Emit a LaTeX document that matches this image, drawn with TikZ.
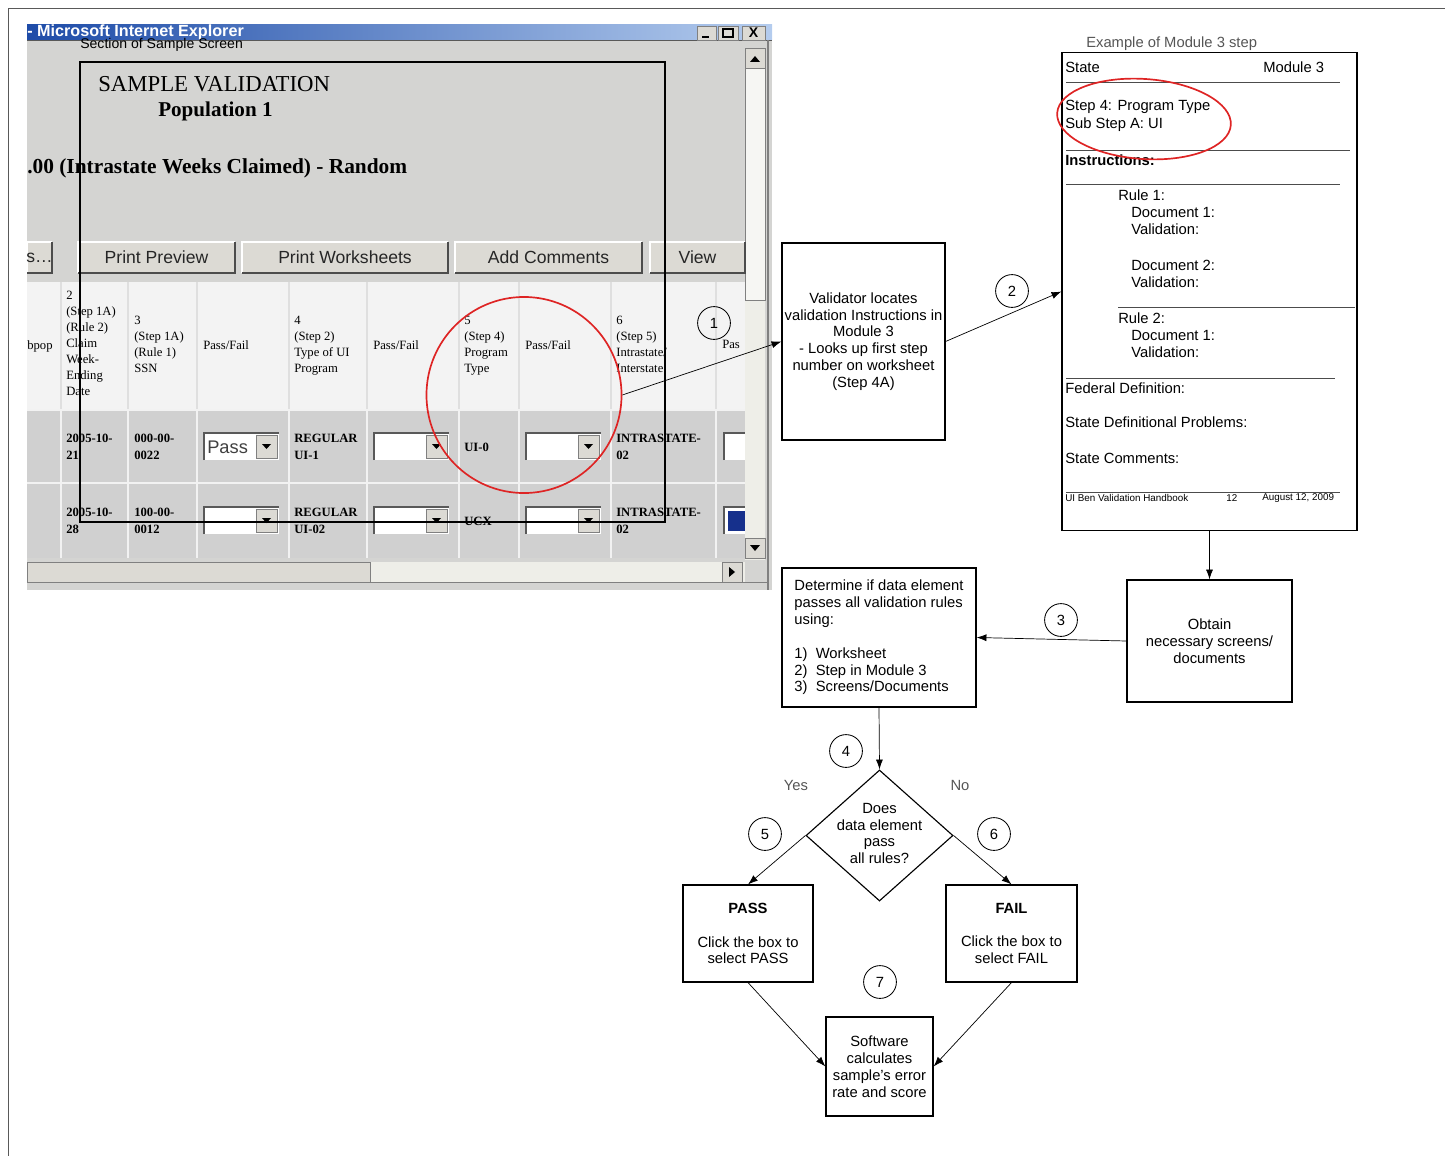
\documentclass[tikz,border=0pt]{standalone}
\usepackage{fontspec}
\setmainfont{Liberation Sans}
\newfontfamily\scrfont{Liberation Serif}
\usetikzlibrary{shapes.geometric,arrows.meta}

\definecolor{wingray}{RGB}{212,212,210}
\definecolor{rowgray}{RGB}{208,208,208}
\definecolor{headgray}{RGB}{243,243,243}
\definecolor{btngray}{RGB}{220,218,212}
\definecolor{trackgray}{RGB}{238,238,232}
\definecolor{iedark}{RGB}{30,76,168}
\definecolor{ielight}{RGB}{180,204,238}
\definecolor{markred}{RGB}{222,36,36}
\definecolor{capgray}{RGB}{85,85,85}
\definecolor{selblue}{RGB}{22,48,140}

\begin{document}
\begin{tikzpicture}[x=0.025cm,y=-0.025cm,
        font=\fontsize{10.5}{12}\selectfont,
        box/.style={draw,line width=0.8pt,inner sep=1pt,align=center},
        decision/.style={draw,diamond,line width=0.8pt,inner sep=0pt},
        flow/.style={-{Latex[length=7pt,width=5pt]},line width=0.5pt},
        num/.style={draw,circle,line width=0.6pt,minimum size=0.82cm,inner sep=0pt},
        redmark/.style={draw=markred,line width=1.2pt,ellipse,inner sep=0pt},
        sheet/.style={anchor=west,inner sep=0pt},
        sheetline/.style={gray!60!black,line width=0.6pt},
        hdr/.style={anchor=north west,inner sep=0pt,align=left,font=\scrfont\fontsize{9}{11.3}\selectfont},
        cell/.style={anchor=west,inner sep=0pt,align=left,font=\scrfont\bfseries\fontsize{9}{12}\selectfont},
        btntext/.style={inner sep=0pt,text=black!85,font=\fontsize{12.5}{14}\selectfont}]
    \useasboundingbox (0,0) rectangle (1445,1156);
    \draw[gray!70!black,line width=0.6pt] (1445,8) -- (8,8) -- (8,1156);

    % screen shot of the worksheet
    \fill[wingray] (27,40) rectangle (772,590);
    \shade[left color=iedark,right color=ielight] (27,25) rectangle (772,40);
    \draw[gray!70!black] (27,40) -- (772,40);
    \node[anchor=west,inner sep=0pt,text=white,font=\bfseries\fontsize{11.5}{12}\selectfont] (ietitle) at (27,32) {- Microsoft Internet Explorer};
    \foreach \xa/\xb in {697/716,718/738,742/765}
        \filldraw[fill=btngray,draw=gray] (\xa,26) rectangle (\xb,40);
    \draw[line width=1.4pt] (702,37) -- (709,37);
    \draw[line width=0.8pt] (723,29) rectangle (733,37);
    \node[inner sep=0pt,font=\bfseries\fontsize{10}{10}\selectfont] (closex) at (753.5,33) {X};
    \draw[gray,line width=1pt] (768,40) -- (768,590);

    \fill[trackgray] (745,48) rectangle (765,560);
    \filldraw[fill=btngray,draw=gray] (745,48) rectangle (765,68);
    \fill (750,62) -- (760,62) -- (755,56) -- cycle;
    \filldraw[fill=trackgray!50!white,draw=gray] (745,68) rectangle (765,300);
    \filldraw[fill=btngray,draw=gray] (745,538) rectangle (765,558);
    \fill (750,545) -- (760,545) -- (755,551) -- cycle;
    \fill[trackgray] (27,562) rectangle (745,582);
    \filldraw[fill=btngray,draw=gray] (27,562) rectangle (370,582);
    \filldraw[fill=btngray,draw=gray] (722,562) rectangle (742,582);
    \fill (729,567) -- (729,577) -- (735,572) -- cycle;
    \draw[gray] (27,582) -- (768,582);

    \node[anchor=west,inner sep=0pt,font=\scrfont\fontsize{16.2}{18}\selectfont] (svtitle) at (98,84) {SAMPLE VALIDATION};
    \node[anchor=west,inner sep=0pt,font=\scrfont\bfseries\fontsize{15}{18}\selectfont] (svpop) at (158,111) {Population 1};
    \node[anchor=west,inner sep=0pt,font=\scrfont\bfseries\fontsize{15.2}{18}\selectfont] (svitem) at (27,168) {.00 (Intrastate Weeks Claimed) - Random};

    \foreach \xa/\xb/\txt in {27/52/s\ldots,78/235/Print Preview,242/448/Print Worksheets,455/642/Add Comments,650/745/View} {
        \fill[btngray] (\xa,242) rectangle (\xb,273);
        \draw[white,line width=1pt] (\xa,273) -- (\xa,242) -- (\xb,242);
        \draw[gray!60!black,line width=1pt] (\xa,273) -- (\xb,273) -- (\xb,242);
        \node[btntext] (btn\xa) at ({(\xa+\xb)/2},257.5) {\txt};
    }

    \fill[headgray] (27,282) rectangle (745,410);
    \fill[rowgray] (27,410) rectangle (745,558);
    \foreach \x in {61,128,197,289,367,459,519,611,716} {
        \draw[gray!25,line width=1pt] (\x,282) -- (\x,410);
        \draw[white!90!gray,line width=1.2pt] (\x,410) -- (\x,558);
    }
    \draw[white!90!gray,line width=1.2pt] (27,410) -- (745,410) (27,483) -- (745,483);

    \node[hdr] (h1) at (27,340) {bpop};
    \node[hdr] (h2) at (66,291) {2\\(Step 1A)\\(Rule 2)\\Claim\\Week-\\Ending\\Date};
    \node[hdr] (h3) at (134,316) {3\\(Step 1A)\\(Rule 1)\\SSN};
    \node[hdr] (h4) at (203,340) {Pass/Fail};
    \node[hdr] (h5) at (294,316) {4\\(Step 2)\\Type of UI\\Program};
    \node[hdr] (h6) at (373,340) {Pass/Fail};
    \node[hdr] (h7) at (464,316) {5\\(Step 4)\\Program\\Type};
    \node[hdr] (h8) at (525,340) {Pass/Fail};
    \node[hdr] (h9) at (616,316) {6\\(Step 5)\\Intrastate/\\Interstate};
    \node[hdr] (h10) at (722,340) {Pas};

    \node[cell] (r1a) at (66,447) {2005-10-\\21};
    \node[cell] (r1b) at (134,447) {000-00-\\0022};
    \node[cell] (r1c) at (294,447) {REGULAR\\UI-1};
    \node[cell] (r1d) at (464,447) {UI-0};
    \node[cell] (r1e) at (616,447) {INTRASTATE-\\02};
    \node[cell] (r2a) at (66,521) {2005-10-\\28};
    \node[cell] (r2b) at (134,521) {100-00-\\0012};
    \node[cell] (r2c) at (294,521) {REGULAR\\UI-02};
    \node[cell] (r2d) at (464,521) {UCX};
    \node[cell] (r2e) at (616,521) {INTRASTATE-\\02};

    \foreach \x/\y in {204/433,374/433,526/433,204/507,374/507,526/507} {
        \fill[white] (\x,\y) rectangle ({\x+75},{\y+27});
        \draw[gray!70!black,line width=1pt] (\x,{\y+27}) -- (\x,\y) -- ({\x+75},\y);
        \filldraw[fill=btngray,draw=gray] ({\x+52},{\y+2}) rectangle ({\x+73},{\y+25});
        \fill ({\x+58},{\y+11}) -- ({\x+67},{\y+11}) -- ({\x+62.5},{\y+16}) -- cycle;
    }
    \node[anchor=west,inner sep=0pt,text=black!75,font=\fontsize{13}{14}\selectfont] (passval) at (207,447) {Pass};
    \fill[white] (724,433) rectangle (745,460);
    \draw[gray!70!black,line width=1pt] (724,460) -- (724,433) -- (745,433);
    \fill[white] (724,507) rectangle (745,534);
    \draw[gray!70!black,line width=1pt] (724,534) -- (724,507) -- (745,507);
    \fill[selblue] (728,511) rectangle (745,531);

    \draw[line width=1.3pt] (80,62) rectangle (665,522);
    \node[anchor=west,inner sep=0pt,font=\fontsize{10}{12}\selectfont] (shotcap) at (80,45) {Section of Sample Screen};
    \node[redmark,minimum width=4.875cm,minimum height=4.9cm] (hilite) at (524,395) {};

    % flow chart
    \node[box,minimum width=4.075cm,minimum height=4.925cm] (validator) at (863.5,341.5) {Validator locates\\validation Instructions in\\Module 3\\- Looks up first step\\number on worksheet\\(Step 4A)};

    \node[box,minimum width=7.375cm,minimum height=11.925cm] (module) at (1209.5,291.5) {};
    \node[sheet,text=capgray] (modcap) at (1086,44) {Example of Module 3 step};
    \foreach \x/\y/\txt [count=\i] in {1065/67/State,1263/67/Module 3,1065/107/Step 4: Program Type,1065/125/Sub Step A: UI,
            1065/160/\textbf{Instructions:},1118/195/Rule 1:,1131/212/Document 1:,1131/229/Validation:,
            1131/265/Document 2:,1131/282/Validation:,1118/318/Rule 2:,1131/335/Document 1:,1131/352/Validation:,
            1065/388/Federal Definition:,1065/422/State Definitional Problems:,1065/458/State Comments:}
        \node[sheet] (mod\i) at (\x,\y) {\txt};
    \draw[sheetline] (1066,82) -- (1340,82);
    \draw[sheetline] (1066,150) -- (1350,150);
    \draw[sheetline] (1066,184) -- (1340,184);
    \draw[sheetline] (1118,307) -- (1355,307);
    \draw[sheetline] (1066,378) -- (1335,378);
    \draw[sheetline] (1066,492) -- (1340,492);
    \node[sheet,font=\fontsize{7}{8}\selectfont] (foot1) at (1065,498) {UI Ben Validation Handbook};
    \node[sheet,font=\fontsize{7}{8}\selectfont] (foot2) at (1226,498) {12};
    \node[sheet,font=\fontsize{7}{8}\selectfont] (foot3) at (1262,498) {August 12, 2009};
    \node[redmark,minimum width=4.35cm,minimum height=2.0cm,rotate=-4] (stephilite) at (1144,119) {};

    \node[box,minimum width=4.125cm,minimum height=3.05cm] (obtain) at (1209.5,641) {Obtain\\necessary screens/\\documents};
    \node[box,align=left,minimum width=4.85cm,minimum height=3.475cm] (determine) at (879,637.5) {Determine if data element\\passes all validation rules\\using:\\[12pt]1)\ \ Worksheet\\2)\ \ Step in Module 3\\3)\ \ Screens/Documents};
    \node[decision,minimum width=3.675cm,minimum height=3.275cm] (ask) at (879.5,835.5) {};
    \node[align=center,inner sep=0pt] (asktext) at (879.5,833.5) {Does\\data element\\pass\\all rules?};
    \node[text=capgray] (yes) at (796,785) {Yes};
    \node[text=capgray] (no) at (960,785) {No};
    \node[box,minimum width=3.25cm,minimum height=2.425cm] (pass) at (748,933.5) {\textbf{PASS}\\[12pt]Click the box to\\select PASS};
    \node[box,minimum width=3.275cm,minimum height=2.425cm] (fail) at (1011.5,933.5) {\textbf{FAIL}\\[12pt]Click the box to\\select FAIL};
    \node[box,minimum width=2.675cm,minimum height=2.475cm] (software) at (879.5,1066.5) {Software\\calculates\\sample's error\\rate and score};

    \node[num] (n1) at (714,323) {1};
    \node[num] (n2) at (1012,291) {2};
    \node[num] (n3) at (1061,620) {3};
    \node[num] (n4) at (846,751) {4};
    \node[num] (n5) at (765,834) {5};
    \node[num] (n6) at (994,834) {6};
    \node[num] (n7) at (880,982) {7};

    \draw[flow] (hilite.east) -- (validator.west);
    \draw[flow] (validator.east) -- (module.west);
    \draw[flow] (module.south) -- (obtain.north);
    \draw[flow] (obtain.west) -- (determine.east);
    \draw[flow] (determine.south) -- (ask.north);
    \draw[flow] (ask.west) -- (pass.north);
    \draw[flow] (ask.east) -- (fail.north);
    \draw[flow] (pass.south) -- (software.west);
    \draw[flow] (fail.south) -- (software.east);
\end{tikzpicture}
\end{document}
